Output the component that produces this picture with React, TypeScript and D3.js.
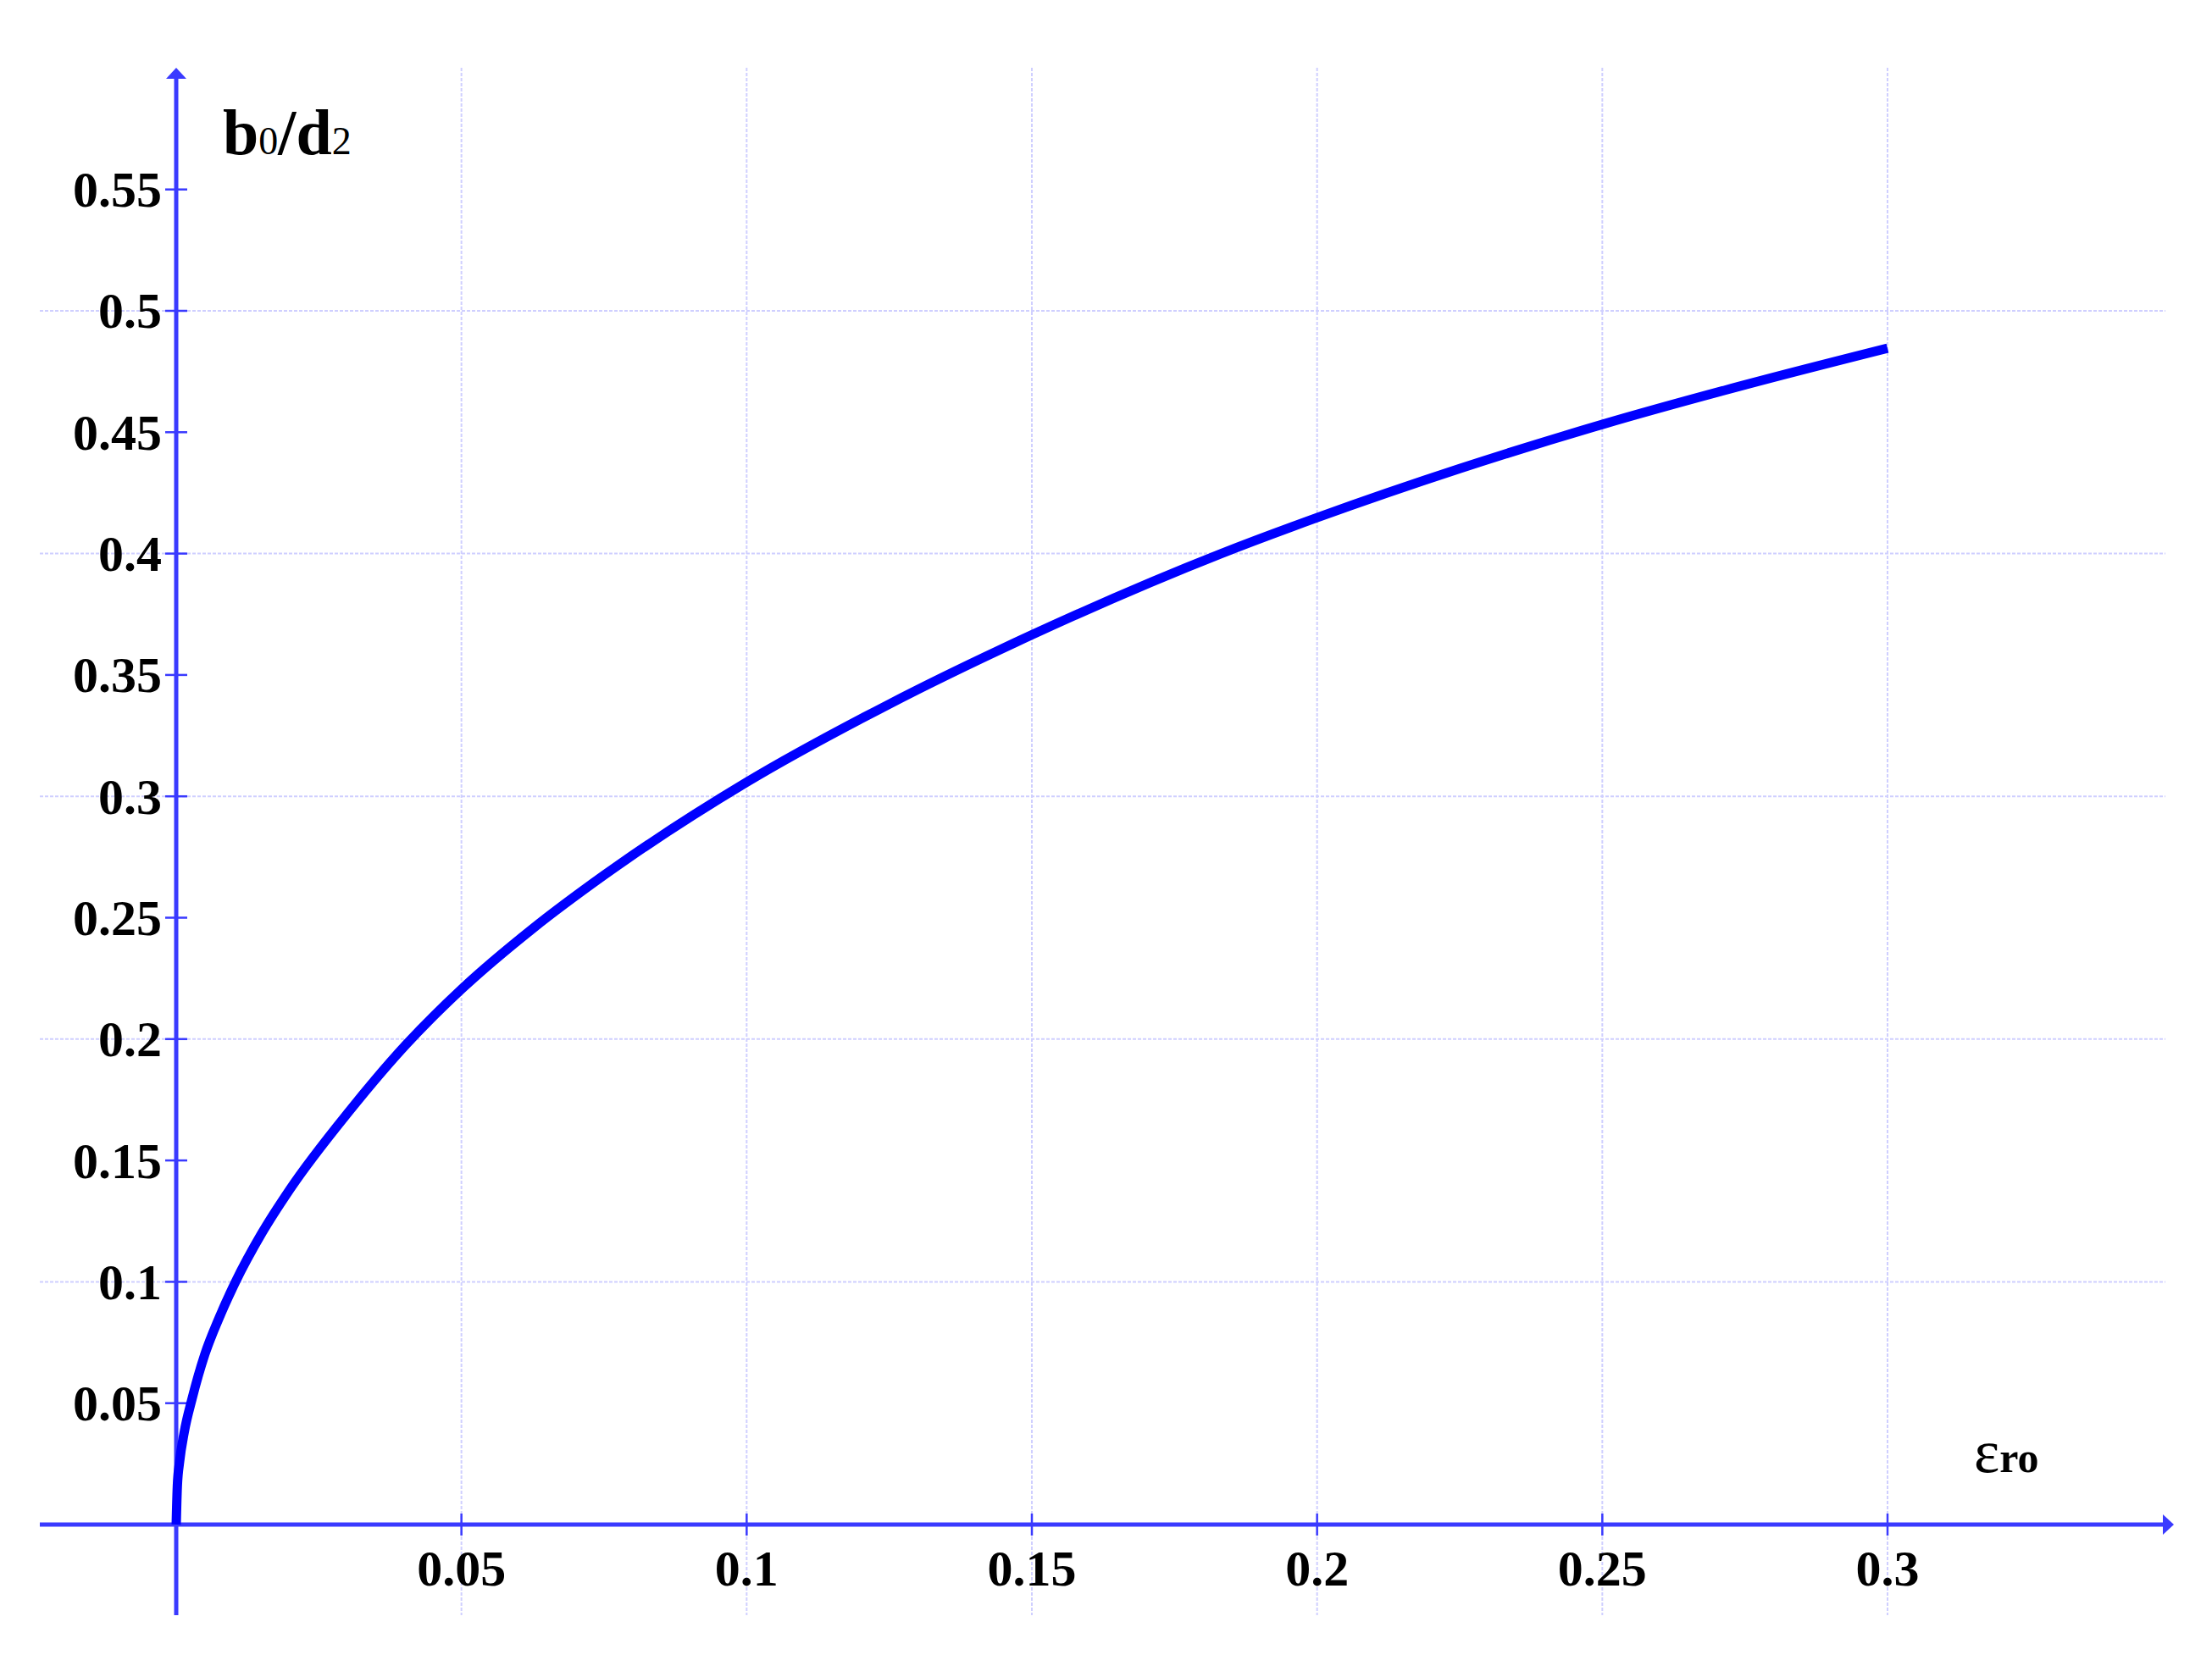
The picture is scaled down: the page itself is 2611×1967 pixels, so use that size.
import React from "react";
import * as d3 from "d3";

// ---- data ----
const epsRo: number[] = [0, 0.0002, 0.0006, 0.0014, 0.0028, 0.005, 0.0075, 0.0104, 0.015, 0.0199, 0.0304, 0.0404, 0.05, 0.0625, 0.075, 0.1, 0.125, 0.15, 0.1832, 0.2, 0.225, 0.25, 0.275, 0.3];
const b0d2: number[] = [0, 0.016, 0.026, 0.038, 0.052, 0.07, 0.085, 0.1, 0.12, 0.138, 0.1705, 0.198, 0.2205, 0.2455, 0.2675, 0.3058, 0.338, 0.3665, 0.4, 0.4148, 0.435, 0.4532, 0.4695, 0.4846];

const xTicks: number[] = [0.05, 0.1, 0.15, 0.2, 0.25, 0.3];
const xTickLabels: string[] = ["0.05", "0.1", "0.15", "0.2", "0.25", "0.3"];
const yTicks: number[] = [0.05, 0.1, 0.15, 0.2, 0.25, 0.3, 0.35, 0.4, 0.45, 0.5, 0.55];
const yTickLabels: string[] = ["0.05", "0.1", "0.15", "0.2", "0.25", "0.3", "0.35", "0.4", "0.45", "0.5", "0.55"];
const xGrid: number[] = [0.05, 0.1, 0.15, 0.2, 0.25, 0.3];
const yGrid: number[] = [0.1, 0.2, 0.3, 0.4, 0.5];

// ---- layout ----
const W = 2611;
const H = 1967;
const AXIS_COLOR = "#3a3aff";
const GRID_COLOR = "#cfcfff";
const CURVE_COLOR = "#0000ff";
const FONT = "'Liberation Serif', 'Times New Roman', serif";

const x = d3.scaleLinear().domain([0, 0.3]).range([208, 2228]);
const y = d3.scaleLinear().domain([0, 0.5]).range([1800, 367]);

const xLeft = 47;
const xRight = 2566;
const yTop = 80;
const yBottom = 1907;

export default function App() {
  const pts: [number, number][] = epsRo.map((e, i) => [e, b0d2[i]]);
  const line = d3
    .line<[number, number]>()
    .x((d) => x(d[0]))
    .y((d) => y(d[1]))
    .curve(d3.curveMonotoneX);
  const x0 = x(0);
  const y0 = y(0);

  return (
    <svg
      width={W}
      height={H}
      viewBox={`0 0 ${W} ${H}`}
      style={{ position: "absolute", left: 0, top: 0, background: "#fff" }}
    >
      <rect x={0} y={0} width={W} height={H} fill="#fff" />
      {/* grid */}
      {xGrid.map((v) => (
        <line
          key={"gx" + v}
          x1={x(v)}
          x2={x(v)}
          y1={yTop}
          y2={yBottom}
          stroke={GRID_COLOR}
          strokeWidth={2}
          strokeDasharray="4 2"
        />
      ))}
      {yGrid.map((v) => (
        <line
          key={"gy" + v}
          x1={xLeft}
          x2={xRight - 10}
          y1={y(v)}
          y2={y(v)}
          stroke={GRID_COLOR}
          strokeWidth={2}
          strokeDasharray="4 2"
        />
      ))}
      {/* axes */}
      <line x1={x0} x2={x0} y1={yTop + 8} y2={yBottom} stroke={AXIS_COLOR} strokeWidth={5} />
      <line x1={xLeft} x2={xRight - 8} y1={y0} y2={y0} stroke={AXIS_COLOR} strokeWidth={5} />
      <path
        d={`M${x0},${yTop} L${x0 + 12},${yTop + 13} L${x0 - 12},${yTop + 13} Z`}
        fill={AXIS_COLOR}
      />
      <path
        d={`M${xRight},${y0} L${xRight - 13},${y0 - 12} L${xRight - 13},${y0 + 12} Z`}
        fill={AXIS_COLOR}
      />
      {/* ticks */}
      {yTicks.map((v) => (
        <line
          key={"ty" + v}
          x1={x0 - 13}
          x2={x0 + 13}
          y1={y(v)}
          y2={y(v)}
          stroke={AXIS_COLOR}
          strokeWidth={2.5}
        />
      ))}
      {xTicks.map((v) => (
        <line
          key={"tx" + v}
          x1={x(v)}
          x2={x(v)}
          y1={y0 - 13}
          y2={y0 + 13}
          stroke={AXIS_COLOR}
          strokeWidth={2.5}
        />
      ))}
      {/* tick labels */}
      {yTicks.map((v, i) => (
        <text
          key={"ly" + v}
          x={x0 - 17}
          y={y(v)}
          dy="0.34em"
          textAnchor="end"
          fontFamily={FONT}
          fontWeight="bold"
          fontSize={60}
          fill="#000"
        >
          {yTickLabels[i]}
        </text>
      ))}
      {xTicks.map((v, i) => (
        <text
          key={"lx" + v}
          x={x(v)}
          y={1872}
          textAnchor="middle"
          fontFamily={FONT}
          fontWeight="bold"
          fontSize={60}
          fill="#000"
        >
          {xTickLabels[i]}
        </text>
      ))}
      {/* curve */}
      <path
        d={line(pts) || ""}
        fill="none"
        stroke={CURVE_COLOR}
        strokeWidth={11}
        strokeLinecap="butt"
      />
      {/* axis titles */}
      <text x={263} y={182} fontFamily={FONT} fontWeight="bold" fill="#000">
        <tspan fontSize={76}>b</tspan>
        <tspan fontSize={46} fontWeight="normal">0</tspan>
        <tspan fontSize={76}>/d</tspan>
        <tspan fontSize={46} fontWeight="normal">2</tspan>
      </text>
      <text x={2330} y={1738} fontFamily={FONT} fill="#000">
        <tspan fontSize={72}>ε</tspan>
        <tspan fontSize={50} fontWeight="bold">ro</tspan>
      </text>
    </svg>
  );
}
